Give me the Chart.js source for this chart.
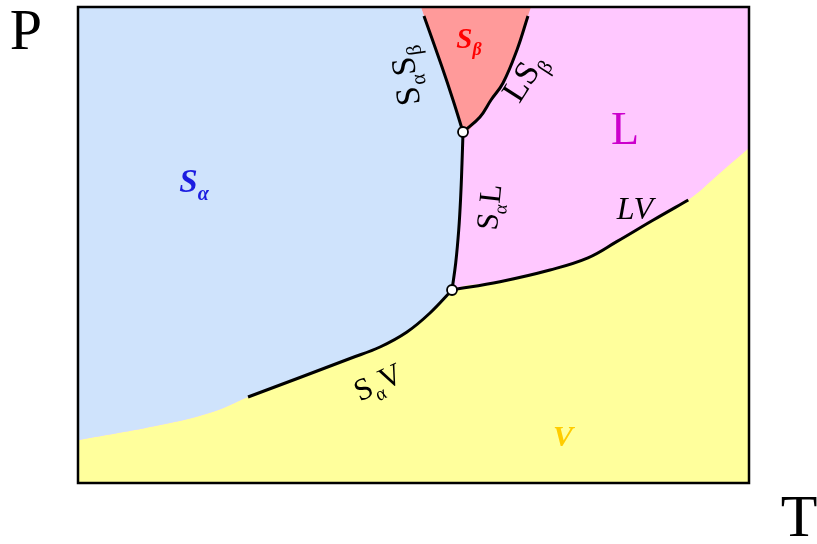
<!DOCTYPE html>
<html>
<head>
<meta charset="utf-8">
<title>Phase diagram</title>
<script src="https://cdn.jsdelivr.net/npm/chart.js@4.4.1/dist/chart.umd.min.js"></script>
<style>
  html, body { margin: 0; padding: 0; background: #fff; }
  #wrap { position: relative; width: 817px; height: 544px; }
</style>
</head>
<body>
<div id="wrap"><canvas id="phase"></canvas></div>
<script>
// ── Phase boundaries, T (x) and P (y) on a 0–100 scale ──────
const triplePoints = [{x: 57.38, y: 73.74}, {x: 55.74, y: 40.55}];

const boundarySaSb = [{x: 51.56, y: 98.11}, {x: 54.25, y: 87.39}, {x: 55.89, y: 80.46}, {x: 57.38, y: 73.74}];
const boundaryLSb  = [{x: 67.06, y: 98.11}, {x: 65.42, y: 90.97}, {x: 63.34, y: 84.03}, {x: 61.55, y: 80.46},
                      {x: 59.91, y: 76.89}, {x: 57.38, y: 73.74}];
const boundarySaL  = [{x: 57.38, y: 73.74}, {x: 57.23, y: 67.23}, {x: 57.03, y: 60.08}, {x: 56.74, y: 53.15},
                      {x: 56.29, y: 46.22}, {x: 55.74, y: 40.55}];
const boundaryLV   = [{x: 55.74, y: 40.55}, {x: 62.89, y: 42.29}, {x: 70.34, y: 44.75}, {x: 76.00, y: 47.30},
                      {x: 80.28, y: 50.70}, {x: 85.74, y: 55.25}, {x: 90.95, y: 59.45}];
const boundarySaV  = [{x: 55.74, y: 40.55}, {x: 52.46, y: 35.71}, {x: 49.03, y: 31.72}, {x: 45.01, y: 28.57},
                      {x: 40.54, y: 26.16}, {x: 33.08, y: 22.16}, {x: 25.34, y: 18.07}];

// region edges where no boundary line is drawn
const edgeVLeft  = [{x: 25.34, y: 18.07}, {x: 20.16, y: 14.98}, {x: 12.22, y: 12.18}, {x: 0, y: 9.0}];
const edgeVRight = [{x: 90.95, y: 59.45}, {x: 95.68, y: 65.13}, {x: 100, y: 70.38}];
const edgeSbTop  = [{x: 51.10, y: 100}, {x: 67.51, y: 100}];
const edgeTop    = [{x: 0, y: 100}, {x: 100, y: 100}];

// ── Region outlines built from the boundaries ────────────────
const regionSa = [edgeSbTop[0], ...boundarySaSb, ...boundarySaL.slice(1), ...boundarySaV.slice(1), ...edgeVLeft.slice(1)];
const regionV  = [...edgeVLeft.slice().reverse(), ...boundarySaV.slice(0, -1).reverse(), ...boundaryLV.slice(1), ...edgeVRight.slice(1)];
const regionSb = [edgeSbTop[0], ...boundarySaSb, ...boundaryLSb.slice(0, -1).reverse(), edgeSbTop[1]];

const colors = {
  Sa: '#cfe3fc',
  L:  '#ffc8ff',
  Sb: '#ff9a9a',
  V:  '#ffff9c'
};

// text labels (position in T/P units, style)
const regionLabels = [
  {parts: [['S'], ['β', 1]],            x: 58.27, y: 93.49, size: 29, style: 'bold italic', color: '#ff0000'},
  {parts: [['S'], ['α', 1]],            x: 17.29, y: 63.34, size: 33, style: 'bold italic', color: '#1c1ce0'},
  {parts: [['L']],                      x: 81.52, y: 74.37, size: 46, style: '',            color: '#cc00cc'},
  {parts: [['V']],                      x: 72.28, y: 9.87,  size: 30, style: 'bold italic', color: '#ffcc00'},
  {parts: [['LV']],                     x: 83.00, y: 57.77, size: 32, style: 'italic',      color: '#000'},
  {parts: [['S'], ['α', 1], ['S'], ['β', 1]], x: 48.73, y: 85.50, size: 34, rot: -98, color: '#000'},
  {parts: [['L'], ['S'], ['β', 1]],     x: 66.40, y: 85.30, size: 34, rot: -57, color: '#000'},
  {parts: [['S'], ['α', 1], ['L']],     x: 61.25, y: 57.98, size: 31, rot: -84, color: '#000'},
  {parts: [['S'], ['α', 1], ['V']],     x: 44.71, y: 21.22, size: 31, rot: -25, color: '#000'},
  {parts: [['P']],                      x: -7.75, y: 95.17, size: 58, style: '', color: '#000'},
  {parts: [['T']],                      x: 107.45, y: -6.93, size: 60, style: '', color: '#000'}
];

const SERIF = '"Liberation Serif", "Times New Roman", serif';

function drawRich(ctx, px, py, l) {
  const size = l.size;
  const subSize = Math.round(size * 0.62);
  const mainFont = `${l.style || ''} ${size}px ${SERIF}`;
  const subFont  = `${l.style || ''} ${subSize}px ${SERIF}`;
  let total = 0;
  const widths = l.parts.map(([t, sub]) => {
    ctx.font = sub ? subFont : mainFont;
    const w = ctx.measureText(t).width;
    total += w;
    return w;
  });
  ctx.save();
  ctx.translate(px, py);
  ctx.rotate((l.rot || 0) * Math.PI / 180);
  ctx.fillStyle = l.color;
  ctx.textBaseline = 'alphabetic';
  const base = size * 0.33;
  let cx = -total / 2;
  l.parts.forEach(([t, sub], i) => {
    ctx.font = sub ? subFont : mainFont;
    ctx.fillText(t, cx, sub ? base + size * 0.24 : base);
    cx += widths[i];
  });
  ctx.restore();
}

// ── Frame + labels ───────────────────────────────────────────
const framePlugin = {
  id: 'frame',
  afterDatasetsDraw(chart) {
    const {ctx, chartArea: a, scales: {x, y}} = chart;
    ctx.save();
    ctx.strokeStyle = '#000';
    ctx.lineWidth = 2.5;
    ctx.strokeRect(a.left, a.top, a.right - a.left, a.bottom - a.top);
    ctx.restore();
    regionLabels.forEach(l => drawRich(ctx, x.getPixelForValue(l.x), y.getPixelForValue(l.y), l));
  }
};

const SMOOTH = 0.4;
const lineStyle = {borderColor: '#000', borderWidth: 3, pointRadius: 0, fill: false, tension: SMOOTH};
const areaStyle = {borderWidth: 0, pointRadius: 0, tension: SMOOTH};

new Chart(document.getElementById('phase'), {
  type: 'line',
  data: {
    datasets: [
      {data: triplePoints, showLine: false, pointRadius: 5, pointBackgroundColor: '#fff',
       pointBorderColor: '#000', pointBorderWidth: 1.8},
      {data: boundarySaSb, ...lineStyle},
      {data: boundaryLSb,  ...lineStyle},
      {data: boundarySaL,  ...lineStyle},
      {data: boundaryLV,   ...lineStyle},
      {data: boundarySaV,  ...lineStyle},
      // Sα is filled sideways, from its right-hand boundary to T = 0
      {data: regionSa, indexAxis: 'y', fill: {value: 0}, backgroundColor: colors.Sa, ...areaStyle},
      {data: regionV,  fill: 'start', backgroundColor: colors.V,  ...areaStyle},
      {data: regionSb, fill: 'end',   backgroundColor: colors.Sb, ...areaStyle},
      {data: edgeTop,  fill: 'start', backgroundColor: colors.L,  ...areaStyle}
    ]
  },
  options: {
    responsive: true,
    maintainAspectRatio: false,
    animation: false,
    layout: {padding: {left: 78, top: 7, right: 68, bottom: 61}},
    plugins: {legend: {display: false}, tooltip: {enabled: false}},
    scales: {
      x: {type: 'linear', min: 0, max: 100, display: false},
      y: {type: 'linear', min: 0, max: 100, display: false}
    }
  },
  plugins: [framePlugin]
});
</script>
</body>
</html>
